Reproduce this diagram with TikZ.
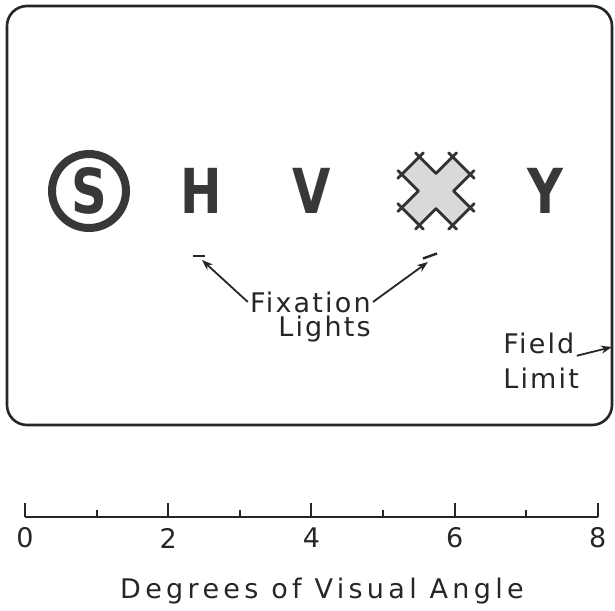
\documentclass[tikz,border=0pt]{standalone}
\usepackage{fontspec}
\setmainfont[LetterSpace=8]{DejaVu Sans}
\newfontfamily\titlefont[LetterSpace=16]{DejaVu Sans}
\newfontfamily\stimfont[FakeStretch=0.8]{DejaVu Sans}
\usetikzlibrary{arrows.meta}

\begin{document}
\begin{tikzpicture}[x=0.5pt, y=-0.5pt,
  stim/.style={font=\stimfont\bfseries\fontsize{31}{31}\selectfont, text=black!78,
               inner sep=0pt},
  lbl/.style={font=\fontsize{13.5}{16}\selectfont, inner sep=1pt, text=black!85},
  arrow/.style={-{Stealth[length=5.5pt, width=4pt]}, line width=0.9pt, black!85},
  xline/.style={line width=1.4pt, black!80, line cap=round},
  axis/.style={line width=1pt, black!85}
]
  \useasboundingbox (0,0) rectangle (615,610);
  % field of view
  \draw[line width=1.3pt, black!85, rounded corners=10pt] (7,6) rectangle (612,425);
  \coordinate (limit) at (612,347);

  % row of stimuli
  \node[circle, draw=black!78, line width=4pt, minimum size=37pt, inner sep=0pt] (ring) at (89,191) {};
  \node[stim] (s) at (ring) {S};
  \node[stim] (h) at (201,191) {H};
  \node[stim] (v) at (312,191) {V};
  \node[stim] (y) at (545,191) {Y};
  % masked letter
  \begin{scope}[shift={(436,191)}, rotate=45]
    \fill[gray!30] (12.5,12.5) -- (36,12.5) -- (36,-12.5) -- (12.5,-12.5) -- (12.5,-36)
      -- (-12.5,-36) -- (-12.5,-12.5) -- (-36,-12.5) -- (-36,12.5) -- (-12.5,12.5)
      -- (-12.5,36) -- (12.5,36) -- cycle;
    \foreach \r in {0,90,180,270} {
      \begin{scope}[rotate=\r]
        \draw[xline] (36,-18) -- (36,18);
        \draw[xline] (12.5,12.5) -- (41.5,12.5);
        \draw[xline] (12.5,-12.5) -- (41.5,-12.5);
      \end{scope}
    }
  \end{scope}

  % fixation lights
  \coordinate (lightl) at (199,256);
  \coordinate (lightr) at (430,256);
  \draw[line width=1.2pt, black!85] ([shift={(-6,0)}]lightl) -- ([shift={(6,0)}]lightl);
  \draw[line width=1.2pt, black!85] ([shift={(-7,2.5)}]lightr) -- ([shift={(7,-2.5)}]lightr);
  \node[lbl, anchor=base east] (fixa) at (373,312) {Fixation};
  \node[lbl, anchor=base east] (lights) at (373,336) {Lights};
  \draw[arrow] (fixa.west) -- ([shift={(3,4)}]lightl);
  \draw[arrow] (fixa.east) -- ([shift={(-2,6)}]lightr);

  % field limit
  \node[lbl, anchor=base west] (field) at (501,353) {Field};
  \node[lbl, anchor=base west] (flimit) at (501,388) {Limit};
  \draw[arrow] (field.south east) -- (limit);

  % scale in degrees
  \draw[axis] (25,517) -- (598,517);
  \foreach \d in {0,2,4,6,8} {
    \draw[axis] (25+71.6*\d,517) -- ++(0,-14);
    \node[lbl] (n\d) at (25+71.6*\d,538) {\d};
  }
  \foreach \d in {1,3,5,7}
    \draw[axis] (25+71.6*\d,517) -- ++(0,-7);
  \node[lbl, font=\titlefont\fontsize{13.5}{16}\selectfont, anchor=base] (title) at (322,598) {Degrees of Visual Angle};
\end{tikzpicture}
\end{document}
